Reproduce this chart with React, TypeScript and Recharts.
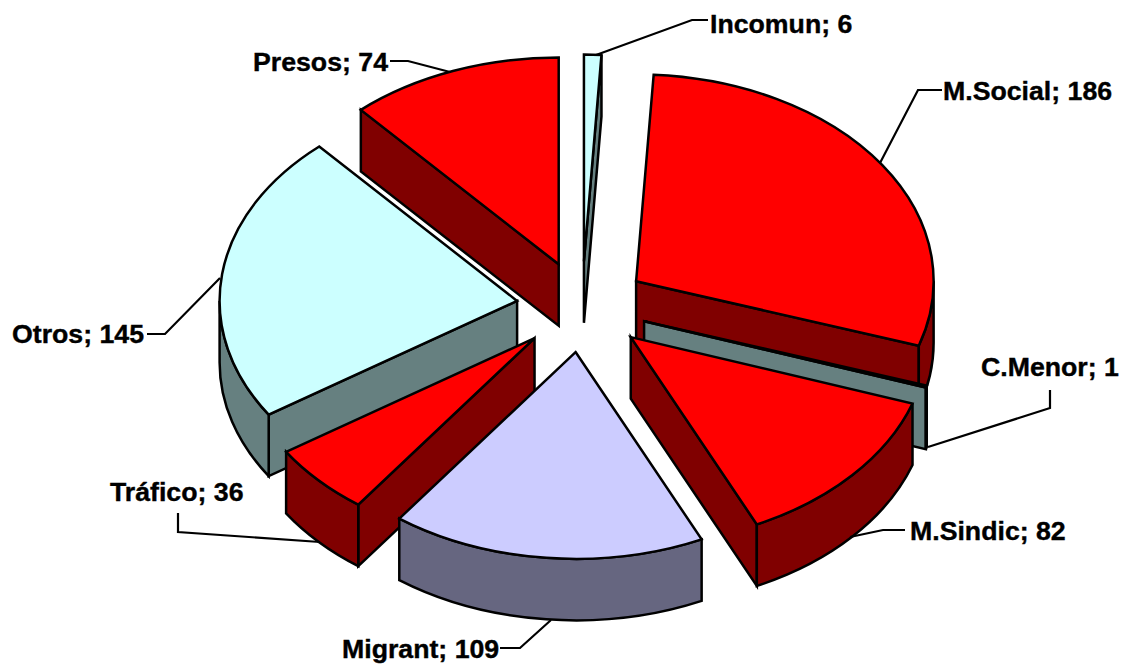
import React from 'react';
import { PieChart, Pie } from 'recharts';

const categories = ['Incomun', 'M.Social', 'C.Menor', 'M.Sindic', 'Migrant', 'Tráfico', 'Otros', 'Presos'];
const values = [6, 186, 1, 82, 109, 36, 145, 74];

const topColors = ['#CCFFFF', '#FF0000', '#CCFFFF', '#FF0000', '#CCCCFF', '#FF0000', '#CCFFFF', '#FF0000'];
const sideColors = ['#668080', '#800000', '#668080', '#800000', '#666680', '#800000', '#668080', '#800000'];

// back to front, the slices overlap each other
const drawOrder = ['Otros', 'Presos', 'Incomun', 'M.Social', 'C.Menor', 'M.Sindic', 'Tráfico', 'Migrant'];

const labelX = [710, 943, 981, 910, 342, 110, 12, 253];
const labelY = [33, 100, 376, 540, 658, 501, 343, 71];
const leaders = [
  '708,20 692,20 596,55',
  '942,90 918,90 880,163',
  '1050,390 1050,408 928,447',
  '905,530 883,530 850,537',
  '500,648 520,648 551,620',
  '178,513 178,532 320,542',
  '147,334 165,334 220,278',
  '390,61 408,61 450,72',
];

const tableData = categories.map((name, i) => ({ name, value: values[i] }));

const WIDTH = 1122;
const HEIGHT = 664;
const CX = 582;
const CY = 306.8;
const RADIUS = 297.5;
const TILT = 0.695;
const EXPLODE = 0.22;
const DEPTH = 61.5;

const makeSlice = (sliceName: string) => (props: any) => {
  if (props.name !== sliceName) return <g />;
  const i = categories.indexOf(sliceName);
  const rx = props.outerRadius;
  const ry = rx * TILT;
  // clockwise degrees from 12 o'clock
  const a0 = 90 - props.startAngle;
  const a1 = 90 - props.endAngle;
  const mid = ((a0 + a1) / 2) * (Math.PI / 180);
  const ax = props.cx + rx * EXPLODE * Math.sin(mid);
  const ay = props.cy - ry * EXPLODE * Math.cos(mid);
  const rim = (deg: number) => {
    const r = (deg * Math.PI) / 180;
    return [ax + rx * Math.sin(r), ay - ry * Math.cos(r)];
  };
  const [x0, y0] = rim(a0);
  const [x1, y1] = rim(a1);
  const style = { stroke: '#000', strokeWidth: 2.5, strokeLinejoin: 'miter' as const };

  const radialWall = (x: number, y: number) =>
    `M${ax},${ay}L${x},${y}L${x},${y + DEPTH}L${ax},${ay + DEPTH}Z`;

  const walls: string[] = [];
  if (Math.sin((a0 * Math.PI) / 180) < -1e-6) walls.push(radialWall(x0, y0));
  if (Math.sin((a1 * Math.PI) / 180) > 1e-6) walls.push(radialWall(x1, y1));
  const c0 = Math.max(a0, 90);
  const c1 = Math.min(a1, 270);
  if (c1 > c0) {
    const [px, py] = rim(c0);
    const [qx, qy] = rim(c1);
    walls.push(
      `M${px},${py}A${rx},${ry} 0 0 1 ${qx},${qy}L${qx},${qy + DEPTH}A${rx},${ry} 0 0 0 ${px},${py + DEPTH}Z`
    );
  }

  return (
    <g>
      {walls.map((d, k) => (
        <path key={k} d={d} fill={sideColors[i]} {...style} />
      ))}
      <path d={`M${ax},${ay}L${x0},${y0}A${rx},${ry} 0 0 1 ${x1},${y1}Z`} fill={topColors[i]} {...style} />
    </g>
  );
};

const renderLabel = (props: any) => {
  const i = categories.indexOf(props.name);
  return (
    <g key={props.name}>
      <polyline points={leaders[i]} fill="none" stroke="#000" strokeWidth={2.2} />
      <text
        x={labelX[i]}
        y={labelY[i]}
        fill="#000"
        stroke="#000"
        strokeWidth={0.4}
        fontFamily="'Liberation Sans', Arial, sans-serif"
        fontWeight="bold"
        fontSize={26.7}
        textAnchor="start"
      >
        {`${props.name}; ${props.value}`}
      </text>
    </g>
  );
};

export default function App() {
  return (
    <div style={{ position: 'absolute', left: 0, top: 0, width: WIDTH, height: HEIGHT, background: '#fff' }}>
      <PieChart width={WIDTH} height={HEIGHT} margin={{ top: 0, right: 0, bottom: 0, left: 0 }}>
        {drawOrder.map((name, k) => (
          <Pie
            key={name}
            data={tableData}
            dataKey="value"
            nameKey="name"
            cx={CX}
            cy={CY}
            innerRadius={0}
            outerRadius={RADIUS}
            startAngle={90}
            endAngle={-270}
            paddingAngle={0}
            isAnimationActive={false}
            shape={makeSlice(name)}
            label={k === drawOrder.length - 1 ? renderLabel : false}
            labelLine={false}
          />
        ))}
      </PieChart>
    </div>
  );
}
